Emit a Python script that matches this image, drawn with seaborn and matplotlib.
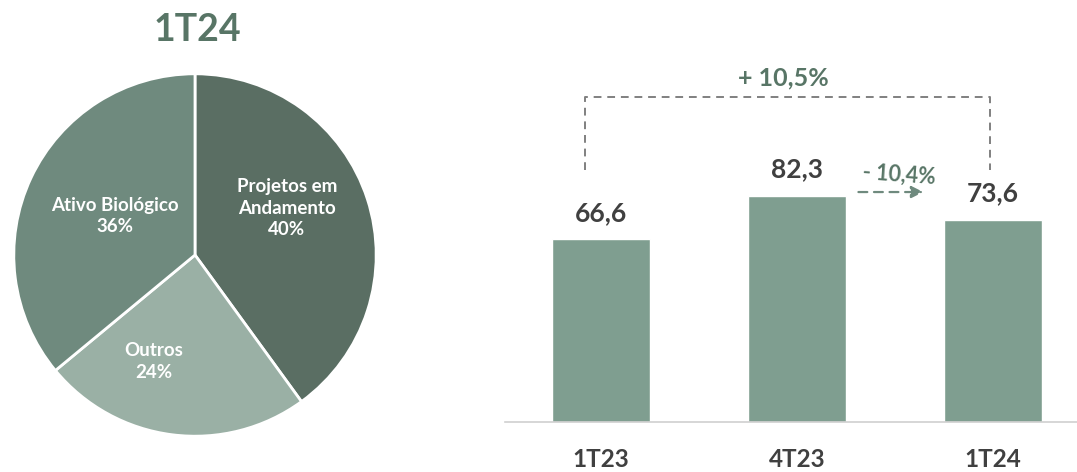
import numpy as np
import pandas as pd
import seaborn as sns
import matplotlib.pyplot as plt

# dados
pie_labels = ["Projetos em\nAndamento", "Outros", "Ativo Biológico"]
pie_values = [40, 24, 36]
pie_colors = ["#5a6e63", "#9ab0a5", "#6f8a7e"]

periodos = ["1T23", "4T23", "1T24"]
valores = [66.6, 82.3, 73.6]
valor_txt = ["66,6", "82,3", "73,6"]
var_total = "+ 10,5%"
var_tri = "- 10,4%"

sns.set_style("white")
plt.rcParams['font.family'] = ['Lato', 'DejaVu Sans']

verde_txt = "#587566"
cinza_txt = "#404040"

fig = plt.figure(figsize=(10.77, 4.72), dpi=100)

# pizza
ax1 = fig.add_axes([12 / 1077, 34 / 472, 366 / 1077, 366 / 472])
wedges, texts, autotexts = ax1.pie(
    pie_values, colors=pie_colors, startangle=90, counterclock=False,
    autopct=lambda p: "", pctdistance=0.56,
    wedgeprops=dict(edgecolor="white", linewidth=2))
# ajuste fino da posicao dos rotulos (distancia, desvio de angulo)
ajustes = [(0.57, 9), (0.63, -14), (0.49, -1)]
for t, w, lab, v, (d, da) in zip(autotexts, wedges, pie_labels, pie_values, ajustes):
    ang = np.deg2rad((w.theta1 + w.theta2) / 2 + da)
    t.set_position((d * np.cos(ang), d * np.sin(ang)))
    t.set_text(f"{lab}\n{v}%")
    t.set_color("white")
    t.set_fontsize(13.5)
    t.set_fontweight("bold")
    t.set_linespacing(1.3)
ax1.set_xlim(-1.01, 1.01)
ax1.set_ylim(-1.01, 1.01)
fig.text(197 / 1077, 1 - 30 / 472, "1T24", ha="center", va="center",
         fontsize=27, fontweight="bold", color=verde_txt)

# barras
ax2 = fig.add_axes([505 / 1077, 50 / 472, 572 / 1077, 362 / 472])
df = pd.DataFrame({"periodo": periodos, "valor": valores})
sns.barplot(data=df, x="periodo", y="valor", color="#7f9e90", width=0.5,
            saturation=1, ax=ax2)
ax2.set_xlim(-0.49, 2.43)
ax2.set_ylim(0, 131.6)
for i, (v, s) in enumerate(zip(valores, valor_txt)):
    ax2.text(i, v + 9.5, s, ha="center", va="center", fontsize=19,
             fontweight="bold", color=cinza_txt)
for sp in ["top", "right", "left"]:
    ax2.spines[sp].set_visible(False)
ax2.spines["bottom"].set_color("#d0d0d0")
ax2.spines["bottom"].set_linewidth(1.2)
ax2.set_yticks([])
ax2.set_xlabel("")
ax2.set_ylabel("")
ax2.tick_params(axis="x", length=0, pad=19)
for lab in ax2.get_xticklabels():
    lab.set_fontsize(17.5)
    lab.set_fontweight("bold")
    lab.set_color(cinza_txt)

# colchete tracejado
ax2.plot([-0.08, -0.08, 1.985, 1.985], [91.6, 118.2, 118.2, 91.6],
         ls=(0, (4, 3)), color="#808080", lw=1.4, clip_on=False)
ax2.text(0.93, 125, var_total, ha="center", va="center", fontsize=18,
         fontweight="bold", color=verde_txt)

# seta tracejada
ax2.annotate("", xy=(1.66, 83.6), xytext=(1.3, 83.6),
             arrowprops=dict(arrowstyle="-|>", ls=(0, (4, 3)), color="#6f8a7e",
                             lw=1.6, mutation_scale=18))
ax2.text(1.52, 89.8, var_tri, ha="center", va="center", fontsize=15.5,
         fontweight="bold", color=verde_txt, rotation=-4)

fig.savefig("out.png", dpi=100)
